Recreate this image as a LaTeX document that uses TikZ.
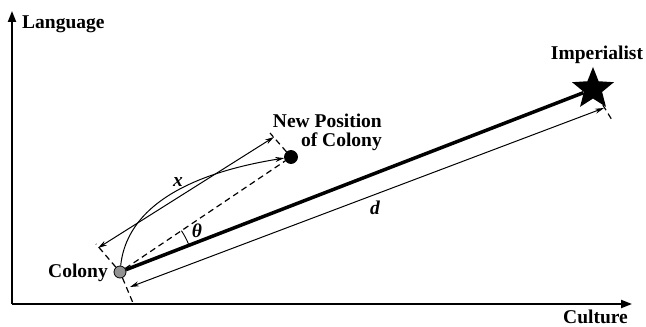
\documentclass[tikz,border=0pt]{standalone}
\usepackage{fontspec}
\setmainfont{Liberation Serif}
\usetikzlibrary{arrows.meta,positioning,shapes.geometric,calc}
\tikzset{
  lbl/.style={font=\bfseries\fontsize{19.5}{19}\selectfont, inner sep=0pt},
  axis/.style={line width=2pt, -{Triangle[length=11pt, width=8pt]}},
  link/.style={line width=3.5pt},
  guide/.style={line width=1.2pt, dash pattern=on 6pt off 4pt},
  dim/.style={line width=1pt, {Stealth[length=9pt, width=5pt]}-{Stealth[length=9pt, width=5pt]}},
  move/.style={line width=1pt, -{Stealth[length=9pt, width=5pt]}},
  dot/.style={circle, draw, line width=0.8pt, inner sep=0pt, minimum size=12pt},
}

\begin{document}
\begin{tikzpicture}[x=1pt, y=1pt]
\useasboundingbox (0,0) rectangle (646,327);

% axes
\coordinate (org) at (12,23);
\coordinate (ytip) at (12,316);
\coordinate (xtip) at (632,23);
\draw[axis] (org) -- (ytip);
\draw[axis] (org) -- (xtip);
\node[lbl, anchor=base west] (lang) at (22,298) {Language};
\node[lbl, anchor=base west] (cult) at (563,4) {Culture};

% colony, new position and imperialist
\node[dot, fill=gray!85] (colony) at (120,55) {};
\node[dot, fill=black, minimum size=13pt] (newpos) at (291,170) {};
\node[star, star points=5, star point ratio=2.3, fill=black, minimum size=44pt, inner sep=0pt] (imp) at (593,238) {};

\node[lbl, anchor=base east] (colonylbl) at (108,49) {Colony};
\node[lbl, anchor=base] (implbl) at (597,267) {Imperialist};
\node[lbl, align=right, anchor=north east] (newlbl) at (382,213) {New Position\\of Colony};

% movement
\draw[link] (colony) -- (imp);
\draw[guide] (colony) -- (newpos);
\draw[move] (colony) .. controls (128,130) and (210,157) .. (newpos);

% angle
\draw[line width=0.9pt] ($(colony)+(21.15:74)$) arc[start angle=21.15, end angle=33.9, radius=74];
\node[lbl, font=\bfseries\itshape\fontsize{19.5}{19}\selectfont] (theta) at (197,96) {θ};

% dimension x
\coordinate (xa) at (98,79);
\coordinate (xb) at (274,190);
\coordinate (xt1) at (96,83);
\coordinate (xt2) at (270,194);
\draw[guide] (colony) -- (xt1);
\draw[guide] (newpos) -- (xt2);
\draw[dim] (xa) -- (xb);
\node[lbl, font=\bfseries\itshape\fontsize{19.5}{19}\selectfont] (xlbl) at (178,145) {x};

% dimension d
\coordinate (da) at (130,40);
\coordinate (db) at (604,219);
\coordinate (dt1) at (133,24);
\coordinate (dt2) at (612,207);
\draw[guide] (colony) -- (dt1);
\draw[guide] (imp) -- (dt2);
\draw[dim] (da) -- (db);
\node[lbl, font=\bfseries\itshape\fontsize{19.5}{19}\selectfont] (dlbl) at (375,119) {d};

\end{tikzpicture}
\end{document}
